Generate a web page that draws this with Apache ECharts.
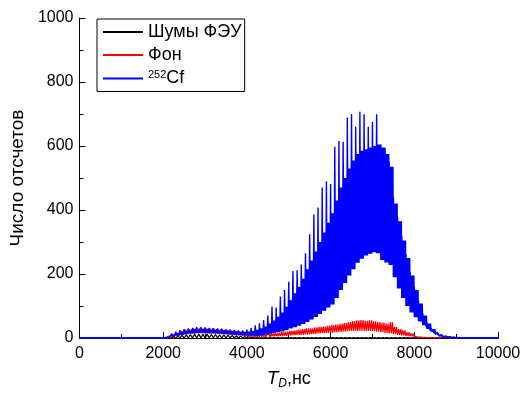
<!DOCTYPE html>
<html><head><meta charset="utf-8">
<script src="https://cdn.jsdelivr.net/npm/echarts@6/dist/echarts.min.js"></script>
<style>html,body{margin:0;padding:0;background:#fff}#c{width:531px;height:398px}</style>
</head><body><div id="c"></div>
<script>
// bins: 0, 100, 200, ... 10000 ns
const binStart = 0, binWidth = 100;
const seriesNames = ['Шумы ФЭУ', 'Фон', '252Cf'];
const xTicks = [0, 2000, 4000, 6000, 8000, 10000];
const yTicks = [0, 200, 400, 600, 800, 1000];

// 252Cf: spike tops, solid band top, band bottom
const cfHigh = [1,1,1,1,1,1,1,1,1,1, 1,1,1,1,1,1,1,1,1,1,
  2,6,14,20,25,28,30,32,34,34, 33,32,31,30,29,27,26,25,24,24,
  26,32,40,46,56,70,98,95,130,150, 176,209,212,230,265,324,386,408,470,490,
  481,598,616,613,689,700,660,707,699,660, 676,699,605,593,551,440,379,320,262,205,
  160,118,78,50,32,22,14,9,6,4, 3,1,1,1,1,1,1,1,1,1,1];
const cfMid = [1,1,1,1,1,1,1,1,1,1, 1,1,1,1,1,1,1,1,1,1,
  1,4,10,15,19,22,24,26,27,28, 27,26,25,24,23,22,21,20,19,19,
  20,22,26,30,36,45,55,66,80,98, 118,140,160,185,215,242,270,300,330,360,
  390,430,470,500,530,555,575,585,590,595, 600,605,595,575,535,420,365,305,250,195,
  150,108,70,45,28,18,11,7,4,3, 2,1,1,1,1,1,1,1,1,1,1];
const cfLow = [0,0,0,0,0,0,0,0,0,0, 0,0,0,0,0,0,0,0,0,0,
  0,1,4,7,10,12,14,15,16,17, 16,15,15,14,13,12,11,10,9,8,
  8,7,7,8,10,12,15,18,20,24, 30,34,38,44,50,58,66,75,85,95,
  105,125,150,172,195,215,235,248,258,263, 268,265,244,236,228,190,155,125,100,80,
  65,52,40,28,20,12,6,3,2,1, 0,0,0,0,0,0,0,0,0,0,0];

// Фон: top and bottom of the noisy band
const bgHigh = [1,1,1,1,1,1,1,1,1,1, 1,1,1,1,1,1,1,1,1,1,
  1,4,10,16,22,26,28,30,31,30, 30,29,28,27,26,25,24,22,20,18,
  15,12,14,20,10,12,14,16,18,20, 22,24,25,28,30,30,33,35,36,38,
  40,42,44,47,50,53,55,56,54,55, 52,50,48,45,50,35,28,24,18,14,
  10,8,6,5,3,2,1,1,1,1, 1,1,1,1,1,1,1,1,1,1,1];
const bgLow = [0,0,0,0,0,0,0,0,0,0, 0,0,0,0,0,0,0,0,0,0,
  0,0,3,6,9,12,13,14,15,15, 14,14,13,12,12,11,10,9,8,6,
  5,4,3,3,3,4,5,5,6,7, 8,9,10,10,11,12,13,14,15,16,
  17,18,19,20,21,22,22,23,22,22, 21,20,18,16,14,12,10,8,6,5,
  4,3,2,1,0,0,0,0,0,0, 0,0,0,0,0,0,0,0,0,0,0];

// Шумы ФЭУ
const pmtHigh = [1,1,1,1,1,1,1,1,1,1, 1,1,1,1,1,1,1,1,1,1,
  1,2,4,6,8,10,11,12,12,12, 12,11,11,10,10,9,8,7,6,5,
  4,3,2,1,1,1,1,1,1,1, 1,1,1,1,1,1,1,1,1,1,
  1,1,1,1,1,1,1,1,1,1, 1,1,1,1,1,1,1,1,1,1,
  1,1,1,1,1,1,1,1,1,1, 1,1,1,1,1,1,1,1,1,1,1];

const binX = i => binStart + i * binWidth;
// alternate between the band bottom and top inside each bin
function zigzag(low, high, steps) {
  const out = [];
  const d = binWidth / steps;
  low.forEach((v, i) => {
    for (let k = 0; k < steps; k++) out.push([binX(i) + k * d, k % 2 ? high[i] : v]);
  });
  return out;
}
// one narrow spike per bin rising from inside the band
function spikes(mid, low, high) {
  const out = [];
  mid.forEach((v, i) => {
    const base = (v + low[i]) / 2;
    out.push([binX(i) - 12, base]); out.push([binX(i), high[i]]); out.push([binX(i) + 12, base]);
  });
  return out;
}
const pmtLow = pmtHigh.map(() => 0);
const blue = '#0000ff', red = '#ff0000', black = '#000000';
const font = 'Liberation Sans, Arial, sans-serif';

const chart = echarts.init(document.getElementById('c'), null, {renderer: 'canvas'});
chart.setOption({
  animation: false,
  backgroundColor: '#fff',
  grid: {left: 77, right: 33, top: 18, bottom: 60},
  legend: {
    z: 20,
    data: seriesNames, orient: 'vertical', left: 97, top: 19, backgroundColor: '#fff',
    padding: [4, 3, 4, 6], itemGap: 5, itemWidth: 40, itemHeight: 2, icon: 'rect',
    borderColor: '#000', borderWidth: 1,
    textStyle: {fontFamily: font, fontSize: 18, color: '#000',
      rich: {sup: {fontSize: 11, verticalAlign: 'top', padding: [0,0,8,0], fontFamily: font, color:'#000'},
             n: {fontSize: 18, fontFamily: font, color:'#000'}}},
    formatter: n => n === '252Cf' ? '{sup|252}{n|Cf}' : n
  },
  xAxis: {
    type: 'value', min: 0, max: 10000, interval: 2000,
    axisLine: {lineStyle: {color: '#000', width: 1}},
    axisTick: {inside: true, length: 6, lineStyle: {color: '#000'}},
    minorTick: {show: true, splitNumber: 2, length: 4, lineStyle: {color: '#000'}},
    splitLine: {show: false},
    axisLabel: {color: '#000', fontSize: 16, fontFamily: font, margin: 8,
      formatter: v => xTicks.includes(v) ? String(v) : ''},
    name: '{t|T}{s|D}{r|,нс}', nameLocation: 'middle', nameGap: 30,
    nameTextStyle: {rich: {
      t: {fontSize: 19, fontStyle: 'italic', fontFamily: font, color: '#000'},
      s: {fontSize: 12, fontStyle: 'italic', fontFamily: font, color: '#000', padding: [10,0,0,0]},
      r: {fontSize: 18, fontFamily: font, color: '#000'}}}
  },
  yAxis: {
    type: 'value', min: 0, max: 1000, interval: 200,
    axisLine: {show: true, lineStyle: {color: '#000', width: 1}},
    axisTick: {show: true, inside: true, length: 6, lineStyle: {color: '#000'}},
    minorTick: {show: true, splitNumber: 2, length: 4, lineStyle: {color: '#000'}},
    splitLine: {show: false},
    axisLabel: {color: '#000', fontSize: 16, fontFamily: font, margin: 6,
      formatter: v => yTicks.includes(v) ? String(v) : ''},
    name: 'Число отсчетов', nameLocation: 'middle', nameGap: 40,
    nameTextStyle: {fontSize: 19, fontFamily: font, color: '#000'}
  },
  series: [
    {name: 'Шумы ФЭУ', type: 'line', data: zigzag(pmtLow, pmtHigh, 2), symbol: 'none',
     lineStyle: {color: black, width: 1.2}, itemStyle: {color: black}, z: 2},
    {name: 'Фон', type: 'line', data: zigzag(bgLow, bgHigh, 4), symbol: 'none',
     lineStyle: {color: red, width: 1.2}, itemStyle: {color: red}, z: 3},
    {name: 'cfBand', type: 'line', data: zigzag(cfLow, cfMid, 10), symbol: 'none',
     lineStyle: {color: blue, width: 1.4}, itemStyle: {color: blue}, z: 4},
    {name: '252Cf', type: 'line', data: spikes(cfMid, cfLow, cfHigh), symbol: 'none',
     lineStyle: {color: blue, width: 1.4}, itemStyle: {color: blue}, z: 4}
  ]
});
</script></body></html>
